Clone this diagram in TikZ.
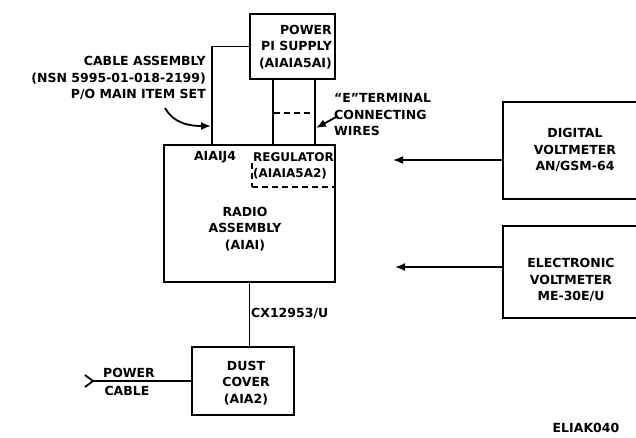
\documentclass[tikz,border=0pt]{standalone}
\usepackage{fontspec}
\setmainfont{DejaVu Sans}
\usetikzlibrary{arrows.meta}
\tikzset{
  box/.style={draw, line width=2.4pt, inner sep=0pt},
  lbl/.style={font=\bfseries\fontsize{12.5}{16.5}\selectfont, inner sep=0pt},
  wire/.style={line width=1.8pt},
  arr/.style={-{Latex[length=10pt,width=8pt]}, line width=1.8pt}
}
\begin{document}
\begin{tikzpicture}[x=1pt,y=-1pt]
\useasboundingbox (0,0) rectangle (636,437);
\node[box, minimum width=85, minimum height=65] (ps) at (292.5,46.5) {};
\node[box, minimum width=171, minimum height=137] (radio) at (249.5,213.5) {};
\node[box, minimum width=102, minimum height=68] (dust) at (243,381) {};
\node[box, minimum width=147, minimum height=97] (dvm) at (576.5,150.5) {};
\node[box, minimum width=147, minimum height=92] (evm) at (576.5,272) {};

\node[lbl, align=right, anchor=east] (pstext) at (332,47) {POWER\\PI SUPPLY\\(AIAIA5AI)};
\node[lbl, align=center] (radiotext) at (245,229) {RADIO\\ASSEMBLY\\(AIAI)};
\node[lbl, align=left, anchor=west, font=\bfseries\fontsize{12}{16.5}\selectfont] (regtext) at (253,166) {REGULATOR\\(AIAIA5A2)};
\node[lbl] (j4text) at (215,157) {AIAIJ4};
\node[lbl, align=center] (dusttext) at (246,383) {DUST\\COVER\\(AIA2)};
\node[lbl, align=center] (dvmtext) at (575,150) {DIGITAL\\VOLTMETER\\AN/GSM-64};
\node[lbl, align=center] (evmtext) at (571,280) {ELECTRONIC\\VOLTMETER\\ME-30E/U};
\node[lbl, align=right, anchor=east] (cabletext) at (206,78) {CABLE ASSEMBLY\\(NSN 5995-01-018-2199)\\P/O MAIN ITEM SET};
\node[lbl, align=left, anchor=west] (etext) at (334,115) {``E''TERMINAL\\CONNECTING\\WIRES};
\node[lbl, anchor=west] (cxtext) at (251,313) {CX12953/U};
\node[lbl] (pwrtext) at (129,373) {POWER};
\node[lbl] (cbltext) at (127,391) {CABLE};
\node[lbl] (figtext) at (586,428) {ELIAK040};

\coordinate (j4) at (212,145);
\coordinate (plug) at (93,381);
\coordinate (dvmtip) at (393,160);
\coordinate (evmtip) at (395,267);
\coordinate (cablept) at (211,126);
\coordinate (wirept) at (316,128);

\draw[wire] (ps.west) -| (j4);
\draw[wire] ([xshift=-19.5]ps.south) -- ([xshift=-19.5]ps.south |- radio.north);
\draw[wire] ([xshift=22.5]ps.south) -- ([xshift=22.5]ps.south |- radio.north);
\draw[wire, dash pattern=on 6pt off 4pt] (274,113) -- (314,113);
\draw[wire, dash pattern=on 6pt off 4pt] (252,187) -- (radio.east |- 0,187);
\draw[wire, dash pattern=on 6pt off 4pt] (252,163) -- (252,187);
\draw[wire] (radio.south) -- (radio.south |- dust.north);
\draw[wire] (dust.west) -- (plug);
\draw[wire] (85,375) -- (plug) -- (85,387);
\draw[arr] (dvmtip -| dvm.west) -- (dvmtip);
\draw[arr] (evmtip -| evm.west) -- (evmtip);
\draw[arr] (165,108) to[out=-60,in=180] (cablept);
\draw[arr] (338,116) -- (wirept);
\end{tikzpicture}
\end{document}
